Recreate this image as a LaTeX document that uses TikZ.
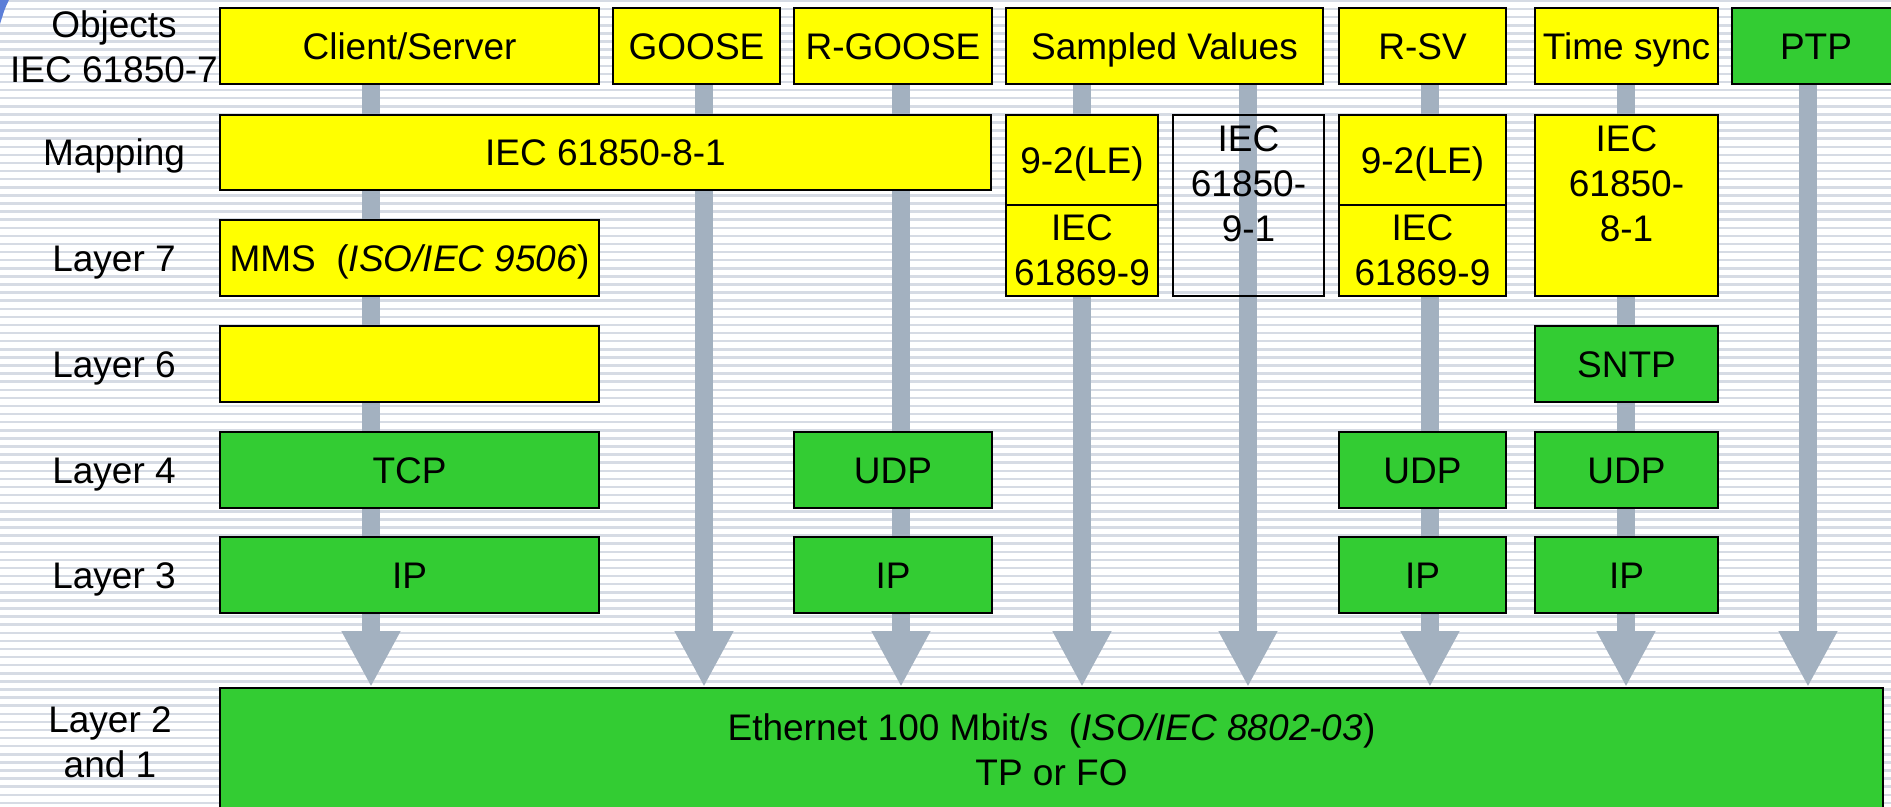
\documentclass[tikz,border=0pt]{standalone}
\usepackage{fontspec}
\setmainfont{Liberation Sans}
\usepackage{tikz}
\usepackage{xcolor}
\usetikzlibrary{arrows.meta,positioning,backgrounds}
\definecolor{iecyellow}{RGB}{255, 255, 0}
\definecolor{netgreen}{RGB}{51, 204, 51}
\definecolor{pipegrey}{RGB}{163, 177, 192}
\definecolor{stripegrey}{RGB}{214, 219, 228}
\definecolor{cornerblue}{RGB}{92, 126, 216}
\newcommand{\diagfont}{\fontsize{18.5}{22.5}\selectfont}
\tikzstyle{block} = [
    rectangle,
    draw=black,
    line width=1pt,
    inner sep=0pt,
    align=center,
    font=\diagfont
]
\tikzstyle{ybox} = [block, fill=iecyellow]
\tikzstyle{gbox} = [block, fill=netgreen]
\tikzstyle{flat} = [text height=13.25pt, text depth=0pt]
\tikzstyle{rowlabel} = [inner sep=0pt, align=center, font=\diagfont]
\tikzstyle{pipe} = [
    line width=9pt,
    draw=pipegrey,
    -{Triangle[length=28pt, width=27.5pt]}
]
\tikzstyle{stripe} = [line width=1.25pt, draw=stripegrey]

\begin{document}
\begin{tikzpicture}[x=0.5pt, y=-0.5pt]
        \useasboundingbox (0,0) rectangle (1891,807);
        \clip (0,0) rectangle (1891,807);

        % Row labels
        \node[rowlabel] (objects) at (114,47) {Objects\\IEC 61850-7};
        \node[rowlabel, flat] (mapping) at (114,152.5) {Mapping};
        \node[rowlabel, flat] (layer7) at (114,258) {Layer 7};
        \node[rowlabel, flat] (layer6) at (114,364) {Layer 6};
        \node[rowlabel, flat] (layer4) at (114,470) {Layer 4};
        \node[rowlabel, flat] (layer3) at (114,575) {Layer 3};
        \node[rowlabel] (layer21) at (110,742) {Layer 2\\and 1};

        % Objects
        \node[ybox, flat, minimum width=189.5pt, minimum height=38pt] (cs) at (409.5,46) {Client/Server};
        \node[ybox, flat, minimum width=83.5pt, minimum height=38pt] (goose) at (696.5,46) {GOOSE};
        \node[ybox, flat, minimum width=99pt, minimum height=38pt] (rgoose) at (893,46) {R-GOOSE};
        \node[ybox, flat, minimum width=158.5pt, minimum height=38pt] (sv) at (1164.5,46) {Sampled Values};
        \node[ybox, flat, minimum width=83.5pt, minimum height=38pt] (rsv) at (1422.5,46) {R-SV};
        \node[ybox, flat, minimum width=91.5pt, minimum height=38pt] (tsync) at (1626.5,46) {Time sync};
        \node[gbox, flat, minimum width=84pt, minimum height=38pt] (ptp) at (1816,46) {PTP};

        % Mapping
        \node[ybox, flat, minimum width=385.5pt, minimum height=37.5pt] (map) at (605.5,152.5) {IEC 61850-8-1};
        \node[ybox, flat, minimum width=76pt, minimum height=45pt] (svle) at (1082,160) {9-2(LE)};
        \node[ybox, minimum width=76pt, minimum height=45.5pt] (svcm) at (1082,250.5) {IEC\\61869-9};
        \node[block, minimum width=75.5pt, minimum height=90.5pt] (svnine) at (1248.5,205.5) {};
        \node[rowlabel, anchor=north] (svninetxt) at (1248.5,125.5) {IEC\\61850-\\9-1};
        \node[ybox, flat, minimum width=83.5pt, minimum height=45pt] (rsvle) at (1422.5,160) {9-2(LE)};
        \node[ybox, minimum width=83.5pt, minimum height=45.5pt] (rsvcm) at (1422.5,250.5) {IEC\\61869-9};
        \node[ybox, minimum width=91.5pt, minimum height=90.5pt] (tsmap) at (1626.5,205.5) {};
        \node[rowlabel, anchor=north] (tsmaptxt) at (1626.5,125.5) {IEC\\61850-\\8-1};

        % Layers 7 to 3
        \node[ybox, flat, minimum width=189.5pt, minimum height=38pt] (mms) at (409.5,258) {MMS\ \ (\textit{ISO/IEC 9506})};
        \node[ybox, minimum width=189.5pt, minimum height=38pt] (pres) at (409.5,364) {};
        \node[gbox, flat, minimum width=91.5pt, minimum height=38pt] (sntp) at (1626.5,364) {SNTP};
        \node[gbox, flat, minimum width=189.5pt, minimum height=38pt] (tcp) at (409.5,470) {TCP};
        \node[gbox, flat, minimum width=99pt, minimum height=38pt] (udpg) at (893,470) {UDP};
        \node[gbox, flat, minimum width=83.5pt, minimum height=38pt] (udpr) at (1422.5,470) {UDP};
        \node[gbox, flat, minimum width=91.5pt, minimum height=38pt] (udpt) at (1626.5,470) {UDP};
        \node[gbox, flat, minimum width=189.5pt, minimum height=38pt] (ipc) at (409.5,575) {IP};
        \node[gbox, flat, minimum width=99pt, minimum height=38pt] (ipg) at (893,575) {IP};
        \node[gbox, flat, minimum width=83.5pt, minimum height=38pt] (ipr) at (1422.5,575) {IP};
        \node[gbox, flat, minimum width=91.5pt, minimum height=38pt] (ipt) at (1626.5,575) {IP};

        % Layer 2 and 1
        \node[gbox, minimum width=831.5pt, minimum height=62pt] (eth) at (1051.5,750) {Ethernet 100 Mbit/s\ \ (\textit{ISO/IEC 8802-03})\\TP or FO};

        % Column axes
        \coordinate (a1) at (371,0);
        \coordinate (a2) at (704,0);
        \coordinate (a3) at (901,0);
        \coordinate (a4) at (1082,0);
        \coordinate (a5) at (1248,0);
        \coordinate (a6) at (1430,0);
        \coordinate (a7) at (1626,0);
        \coordinate (a8) at (1808,0);

        \begin{pgfonlayer}{background}
            \foreach \y in {1,9.1,...,810}
                \draw[stripe] (0,\y) -- (1891,\y);
            \fill[cornerblue] (0,0) -- (9,0) .. controls (5,8) .. (0,24) -- cycle;
            \foreach \from/\col in {cs/a1, goose/a2, rgoose/a3, sv/a4, sv/a5, rsv/a6, tsync/a7, ptp/a8}
                \draw[pipe] (\from.south -| \col) -- (eth.north -| \col);
        \end{pgfonlayer}
    \end{tikzpicture}
\end{document}
